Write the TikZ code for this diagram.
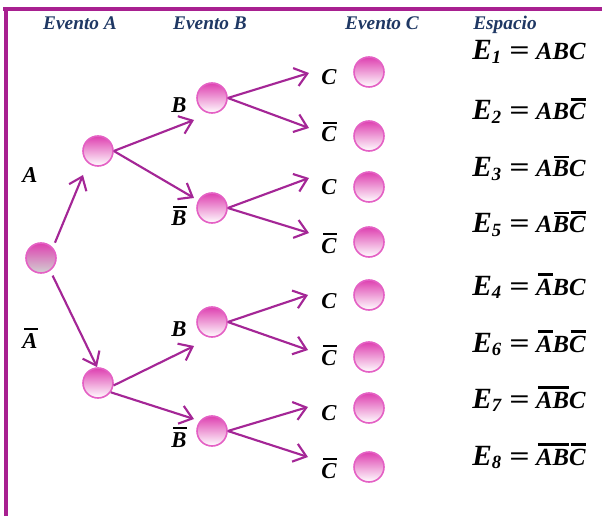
\documentclass[tikz,border=0pt]{standalone}
\usepackage{fontspec}
\usepackage{graphicx}
\setmainfont{Liberation Serif}
\usetikzlibrary{arrows.meta}
\definecolor{framec}{RGB}{168,32,144}
\definecolor{arrowc}{RGB}{164,38,150}
\definecolor{balltop}{RGB}{222,64,176}
\definecolor{balledge}{RGB}{228,96,196}
\definecolor{headc}{RGB}{31,56,100}
\newcommand\ngt[1]{\setbox0\hbox{#1}\rlap{\hspace{1.2pt}\raisebox{\dimexpr\ht0+2pt\relax}{\rule{\dimexpr\wd0-1.2pt\relax}{2pt}}}\box0}
\newcommand\Esub[1]{{\fontsize{22}{24}\selectfont E}\raisebox{-2.5pt}{\fontsize{14}{15}\selectfont #1}}
\newcommand\eqs{\hspace{6pt}\scalebox{1.45}[1.1]{=}\hspace{5pt}}
\tikzset{
  ball/.style={circle,minimum size=22.5pt,inner sep=0pt,draw=balledge,line width=1.2pt,top color=balltop,bottom color=white},
  head/.style={anchor=base,text=headc,font=\fontsize{14.5}{16}\selectfont\bfseries\itshape},
  lab/.style={anchor=base,inner sep=0pt,font=\fontsize{17}{19}\selectfont\bfseries\itshape},
  eq/.style={anchor=base west,inner sep=0pt,font=\fontsize{18.5}{20}\selectfont\bfseries\itshape},
  arr/.style={draw=arrowc,line width=1.6pt,-{Straight Barb[length=9pt,width=14pt]}}
}
\begin{document}
\begin{tikzpicture}[x=0.75pt,y=-0.75pt]
\useasboundingbox (0,0) rectangle (602,516);
\draw[framec,line width=2.8pt] (3,9) -- (602,9);
\draw[framec,line width=3pt] (6,7.6) -- (6,516);
\node[head] (hA) at (80,30) {Evento A};
\node[head] (hB) at (210,30) {Evento B};
\node[head] (hC) at (382,30) {Evento C};
\node[head] (hS) at (505,30) {Espacio};
\node[ball,bottom color=black!18] (r) at (41,258) {};
\node[ball] (a1) at (98,151) {};
\node[ball] (a0) at (98,383) {};
\node[ball] (b11) at (212,98) {};
\node[ball] (b10) at (212,208) {};
\node[ball] (b01) at (212,322) {};
\node[ball] (b00) at (212,431) {};
\node[ball] (c1) at (369,72) {};
\node[ball] (c2) at (369,136) {};
\node[ball] (c3) at (369,187) {};
\node[ball] (c4) at (369,242) {};
\node[ball] (c5) at (369,295) {};
\node[ball] (c6) at (369,357) {};
\node[ball] (c7) at (369,408) {};
\node[ball] (c8) at (369,467) {};
\node[lab] (lA1) at (30,183) {A};
\node[lab] (lA0) at (30,348) {\ngt{A}};
\node[lab] (lB11) at (179,113) {B};
\node[lab] (lB10) at (179,226) {\ngt{B}};
\node[lab] (lB01) at (179,336) {B};
\node[lab] (lB00) at (179,447) {\ngt{B}};
\node[lab] (lC1) at (329,85) {C};
\node[lab] (lC2) at (329,142) {\ngt{C}};
\node[lab] (lC3) at (329,195) {C};
\node[lab] (lC4) at (329,253) {\ngt{C}};
\node[lab] (lC5) at (329,308) {C};
\node[lab] (lC6) at (329,365) {\ngt{C}};
\node[lab] (lC7) at (329,420) {C};
\node[lab] (lC8) at (329,478) {\ngt{C}};
\node[eq] (e1) at (472,60) {\Esub{1}\eqs ABC};
\node[eq] (e2) at (472,120) {\Esub{2}\eqs AB\ngt{C}};
\node[eq] (e3) at (472,177) {\Esub{3}\eqs A\ngt{B}C};
\node[eq] (e5) at (472,233) {\Esub{5}\eqs A\ngt{B}\ngt{C}};
\node[eq] (e4) at (472,295) {\Esub{4}\eqs \ngt{A}BC};
\node[eq] (e6) at (472,352) {\Esub{6}\eqs \ngt{A}B\ngt{C}};
\node[eq] (e7) at (472,408) {\Esub{7}\eqs \ngt{AB}C};
\node[eq] (e8) at (472,465) {\Esub{8}\eqs \ngt{AB}\ngt{C}};
\coordinate (ta1) at (83,175);
\coordinate (ta0) at (97,367);
\coordinate (tb11) at (194,120);
\coordinate (tb10) at (194,198);
\coordinate (tb01) at (194,346);
\coordinate (tb00) at (194,419);
\coordinate (tc1) at (309,73);
\coordinate (tc2) at (309,128);
\coordinate (tc3) at (309,178);
\coordinate (tc4) at (309,233);
\coordinate (tc5) at (308,295);
\coordinate (tc6) at (308,350);
\coordinate (tc7) at (308,407);
\coordinate (tc8) at (308,457);
\draw[arr,shorten <=4pt] (r.41) -- (ta1);
\draw[arr,shorten <=4pt] (r.-54) -- (ta0);
\draw[arr] (a1.east) -- (tb11);
\draw[arr] (a1.east) -- (tb10);
\draw[arr] (a0.-9) -- (tb01);
\draw[arr] (a0.-36) -- (tb00);
\draw[arr] (b11.east) -- (tc1);
\draw[arr] (b11.east) -- (tc2);
\draw[arr] (b10.east) -- (tc3);
\draw[arr] (b10.east) -- (tc4);
\draw[arr] (b01.east) -- (tc5);
\draw[arr] (b01.east) -- (tc6);
\draw[arr] (b00.east) -- (tc7);
\draw[arr] (b00.east) -- (tc8);
\end{tikzpicture}
\end{document}
